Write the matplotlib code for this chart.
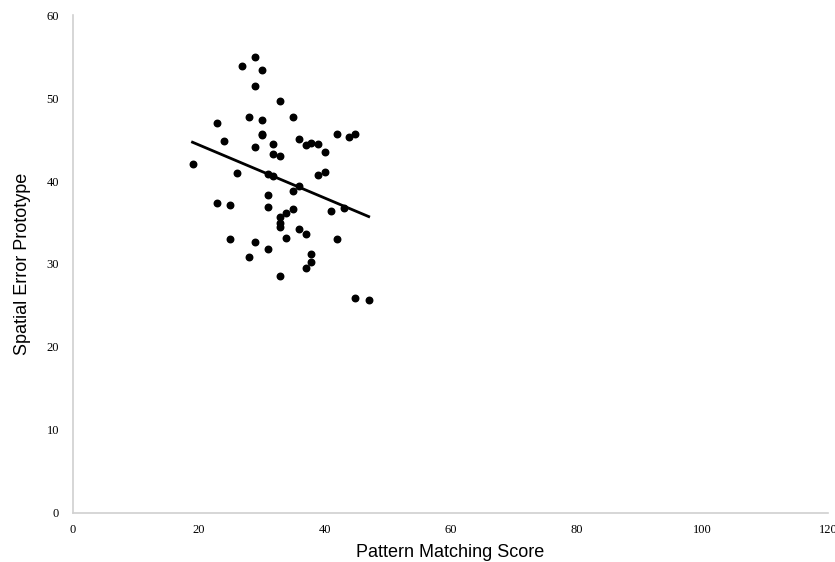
import numpy as np
import matplotlib
matplotlib.use("Agg")
import matplotlib.pyplot as plt

# pattern matching score vs spatial error (prototype)
score = [29.0, 26.9, 30.0, 29.0, 32.9, 22.9, 27.9, 30.0, 35.0, 30.0,
         30.0, 24.0, 29.0, 31.8, 31.8, 32.9, 36.0, 37.0, 37.9, 39.0,
         40.0, 42.0, 43.9, 44.9, 19.0, 26.1, 31.0, 31.8, 39.0, 40.0,
         36.0, 35.0, 31.0, 22.9, 25.0, 31.0, 41.0, 43.0, 35.0, 33.9,
         32.9, 32.9, 32.9, 36.0, 37.0, 25.0, 29.0, 33.9, 42.0, 31.0,
         27.9, 37.9, 37.9, 37.0, 32.9, 44.9, 47.0]
error = [55.0, 53.9, 53.4, 51.5, 49.6, 47.0, 47.7, 47.3, 47.7, 45.7,
         45.5, 44.8, 44.1, 44.5, 43.2, 43.0, 45.1, 44.3, 44.6, 44.5,
         43.5, 45.7, 45.3, 45.7, 42.1, 41.0, 40.8, 40.6, 40.7, 41.1,
         39.4, 38.8, 38.3, 37.3, 37.1, 36.9, 36.4, 36.7, 36.6, 36.1,
         35.7, 34.9, 34.5, 34.2, 33.6, 33.0, 32.6, 33.1, 33.0, 31.8,
         30.9, 31.2, 30.3, 29.5, 28.5, 25.9, 25.7]

x = np.array(score)
y = np.array(error)
slope, icept = np.polyfit(x, y, 1)
xl = np.array([x.min(), x.max()])

fig = plt.figure(figsize=(8.35, 5.62), dpi=100)
ax = fig.add_axes([0.0874, 0.0872, 0.9042, 0.8861])

ax.scatter(x, y, s=22, color='black', zorder=3)
ax.plot(xl, slope * xl + icept, color='black', lw=2, zorder=2)

ax.set_xlim(0, 120)
ax.set_ylim(0, 60)
ax.set_xticks(range(0, 121, 20))
ax.set_yticks(range(0, 61, 10))

for s in ['top', 'right']:
    ax.spines[s].set_visible(False)
for s in ['left', 'bottom']:
    ax.spines[s].set_color('#d0d0d0')
    ax.spines[s].set_linewidth(1.2)
ax.tick_params(axis='y', length=0, pad=10)
ax.tick_params(axis='x', length=0, pad=8)
for lab in ax.get_xticklabels() + ax.get_yticklabels():
    lab.set_fontfamily('Liberation Serif')
    lab.set_fontsize(9)

ax.set_xlabel('Pattern Matching Score', fontfamily='Liberation Sans', fontsize=13, labelpad=6)
ax.set_ylabel('Spatial Error Prototype', fontfamily='Liberation Sans', fontsize=13, labelpad=11)

fig.savefig('out.png', dpi=100)
